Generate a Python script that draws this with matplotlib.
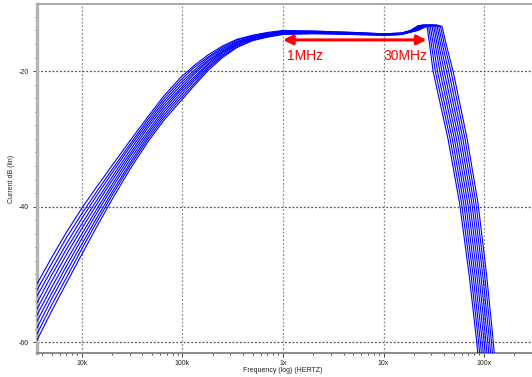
"""Current response of a swept bandpass stage, with the 1MHz-30MHz flat band marked."""

import matplotlib
matplotlib.use("Agg")  # headless, only writes out.png

import matplotlib.pyplot as plt
from matplotlib.ticker import FixedLocator, LogLocator, MultipleLocator, NullFormatter

plt.rcParams["axes.unicode_minus"] = False  # reference uses a plain hyphen

# --- data ------------------------------------------------------------------
# low/mid band: every curve is sampled on the same frequency grid (Hz)
LOW_FREQ_HZ = [3.57e3, 5e3, 7e3, 10e3, 14e3, 20e3, 30e3, 45e3, 65e3, 95e3, 130e3,
               180e3, 250e3, 350e3, 500e3, 700e3, 1e6, 2e6, 5e6, 10e6, 15e6]
LOW_DB = [
    [-51.4, -47.5, -43.8, -40.2, -37.1, -33.9, -30.3, -26.8, -23.7, -21.0, -19.2, -17.6, -16.3, -15.3, -14.7, -14.3, -14.0, -14.1, -14.3, -14.5, -14.4],
    [-52.3, -48.4, -44.6, -41.0, -37.8, -34.5, -30.8, -27.2, -24.1, -21.4, -19.5, -17.9, -16.5, -15.4, -14.8, -14.4, -14.1, -14.1, -14.3, -14.5, -14.4],
    [-53.2, -49.3, -45.5, -41.7, -38.4, -35.0, -31.2, -27.6, -24.5, -21.8, -19.9, -18.1, -16.7, -15.6, -14.9, -14.5, -14.1, -14.2, -14.4, -14.5, -14.4],
    [-54.2, -50.1, -46.3, -42.5, -39.1, -35.6, -31.7, -28.0, -24.9, -22.2, -20.2, -18.4, -16.9, -15.7, -15.0, -14.5, -14.2, -14.2, -14.4, -14.6, -14.5],
    [-55.1, -51.0, -47.1, -43.2, -39.7, -36.1, -32.2, -28.4, -25.3, -22.6, -20.5, -18.6, -17.1, -15.8, -15.1, -14.6, -14.3, -14.3, -14.4, -14.6, -14.5],
    [-56.0, -51.9, -48.0, -44.0, -40.4, -36.7, -32.6, -28.9, -25.7, -22.9, -20.9, -18.9, -17.2, -16.0, -15.1, -14.7, -14.3, -14.3, -14.5, -14.6, -14.5],
    [-56.9, -52.8, -48.8, -44.7, -41.0, -37.2, -33.1, -29.3, -26.1, -23.3, -21.2, -19.1, -17.4, -16.1, -15.2, -14.8, -14.4, -14.3, -14.5, -14.6, -14.5],
    [-57.9, -53.6, -49.6, -45.5, -41.7, -37.8, -33.6, -29.7, -26.5, -23.7, -21.5, -19.4, -17.6, -16.2, -15.3, -14.8, -14.5, -14.4, -14.5, -14.7, -14.6],
    [-58.8, -54.5, -50.5, -46.2, -42.3, -38.3, -34.0, -30.1, -26.9, -24.1, -21.9, -19.6, -17.8, -16.4, -15.4, -14.9, -14.5, -14.4, -14.6, -14.7, -14.6],
    [-59.7, -55.4, -51.3, -47.0, -43.0, -38.9, -34.5, -30.5, -27.3, -24.5, -22.2, -19.9, -18.0, -16.5, -15.5, -15.0, -14.6, -14.5, -14.6, -14.7, -14.6],
]

# peak + roll-off: shared dB levels, each curve reaches them at its own frequency (MHz)
HIGH_DB = [-14.0, -13.3, -13.2, -13.4, -16.0, -20.0, -30.0, -39.5, -50.0, -60.0, -70.0]
HIGH_FREQ_MHZ = [
    [18.5, 22.0, 25.0, 27.1, 28.7, 31.1, 43.8, 57.1, 71.0, 84.6, 97.7],
    [18.9, 22.6, 25.9, 28.1, 29.9, 32.7, 46.0, 59.8, 74.2, 88.3, 101.8],
    [19.2, 23.2, 26.8, 29.2, 31.2, 34.4, 48.3, 62.7, 77.6, 92.0, 106.0],
    [19.6, 23.8, 27.7, 30.4, 32.6, 36.3, 50.7, 65.7, 81.1, 96.0, 110.4],
    [20.0, 24.5, 28.7, 31.6, 34.0, 38.1, 53.2, 68.9, 84.8, 100.2, 115.0],
    [20.4, 25.1, 29.7, 32.8, 35.4, 40.1, 55.9, 72.2, 88.7, 104.5, 119.8],
    [20.8, 25.8, 30.7, 34.1, 36.9, 42.2, 58.7, 75.7, 92.7, 109.0, 124.8],
    [21.2, 26.5, 31.8, 35.4, 38.5, 44.4, 61.6, 79.3, 96.9, 113.7, 130.0],
    [21.6, 27.3, 32.9, 36.8, 40.2, 46.8, 64.7, 83.1, 101.3, 118.6, 135.4],
    [22.0, 28.0, 34.0, 38.2, 41.9, 49.2, 67.9, 87.1, 105.9, 123.7, 141.0],
]

X_TICKS_HZ = [1e4, 1e5, 1e6, 1e7, 1e8]
X_TICK_LABELS = ["10k", "100k", "1x", "10x", "100x"]
Y_TICKS_DB = [-20, -40, -60]

BAND_LO_HZ = 1e6
BAND_HI_HZ = 2.68e7
BAND_ARROW_DB = -15.4

SMALL_FONT = ["Liberation Sans", "DejaVu Sans"]

# --- figure -----------------------------------------------------------------
W, H = 532, 377
fig = plt.figure(figsize=(W / 100, H / 100), dpi=100)
ax = fig.add_axes([37 / W, 1 - 353 / H, (W - 37) / W, (353 - 4) / H])

for k in range(len(LOW_DB)):
    f = LOW_FREQ_HZ + [m * 1e6 for m in HIGH_FREQ_MHZ[k]]
    db = LOW_DB[k] + HIGH_DB
    ax.plot(f, db, color="#0000ff", lw=0.8, zorder=3)

ax.set_xscale("log")
ax.set_xlim(3.57e3, 3.0e8)
ax.set_ylim(-61.6, -10.1)

# grid: vertical at decades, horizontal at labelled dB levels
for x in X_TICKS_HZ:
    ax.axvline(x, color="#8c8c8c", lw=0.9, ls=(0, (1.5, 1.5)), zorder=1)
for y in Y_TICKS_DB:
    ax.axhline(y, color="#555555", lw=0.9, ls=(0, (1.5, 1.5)), zorder=1)

# ticks
ax.xaxis.set_major_locator(FixedLocator(X_TICKS_HZ))
ax.xaxis.set_minor_locator(LogLocator(base=10, subs=range(2, 10), numticks=20))
ax.xaxis.set_minor_formatter(NullFormatter())
ax.set_xticklabels(X_TICK_LABELS)
ax.yaxis.set_major_locator(FixedLocator(Y_TICKS_DB))
ax.yaxis.set_minor_locator(MultipleLocator(2))
ax.tick_params(axis="both", which="both", direction="out", color="#444444",
               width=0.7, labelsize=5, labelcolor="#222222")
ax.tick_params(axis="x", which="major", length=3, pad=2)
ax.tick_params(axis="x", which="minor", length=1.5)
ax.tick_params(axis="y", which="major", length=3, pad=3)
ax.tick_params(axis="y", which="minor", length=1.5)
for lbl in ax.get_xticklabels() + ax.get_yticklabels():
    lbl.set_family(SMALL_FONT)

# frame: thick grey bar on the left, thin grey lines top/bottom, nothing right
ax.spines["right"].set_visible(False)
ax.spines["left"].set_color("#b4b4b4")
ax.spines["left"].set_linewidth(2.4)
ax.spines["bottom"].set_color("#8a8a8a")
ax.spines["bottom"].set_linewidth(1.4)
ax.spines["top"].set_color("#a8a8a8")
ax.spines["top"].set_linewidth(1.4)

ax.set_xlabel("Frequency (log) (HERTZ)", fontsize=5, family=SMALL_FONT,
              color="#222222")
ax.set_ylabel("Current dB (lin)", fontsize=5, family=SMALL_FONT,
              color="#222222")
ax.xaxis.set_label_coords(0.497, -0.04)
ax.yaxis.set_label_coords(-0.044, 0.5)

# flat-band annotation
ax.annotate("", xy=(BAND_LO_HZ, BAND_ARROW_DB), xytext=(BAND_HI_HZ, BAND_ARROW_DB),
            arrowprops=dict(arrowstyle="<|-|>", color="#ff0000", lw=2.2,
                            mutation_scale=14, shrinkA=0, shrinkB=0), zorder=5)
ax.text(1.09e6, -17.8, "1MHz", color="#ff0000", fontsize=10,
        family="Liberation Sans", ha="left", va="center", zorder=5)
ax.text(2.75e7, -17.8, "30MHz", color="#ff0000", fontsize=10,
        family="Liberation Sans", ha="right", va="center", zorder=5)

fig.savefig("out.png", dpi=100)
plt.close(fig)
